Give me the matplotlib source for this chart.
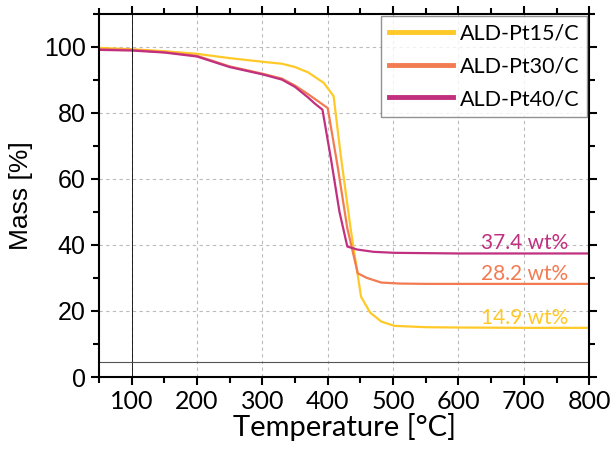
"""
TGA curves of ALD-Pt/C catalysts (mass loss vs temperature)
"""

import numpy as np
import matplotlib.pyplot as plt

## Data
temp_15 = [50, 100, 150, 200, 250, 300, 330, 350, 370, 394, 409, 420, 435, 451, 465, 482, 502, 550, 600, 700, 800]
mass_15 = [99.6, 99.2, 98.6, 97.8, 96.5, 95.4, 94.8, 93.8, 92.2, 89.0, 85.0, 67.0, 45.0, 24.3, 19.5, 16.8, 15.5, 15.1, 15.0, 14.9, 14.9]

temp_30 = [50, 100, 150, 200, 250, 300, 330, 350, 370, 385, 400, 415, 430, 446, 460, 482, 510, 550, 600, 700, 800]
mass_30 = [99.2, 99.0, 98.3, 97.2, 94.0, 91.8, 90.3, 88.2, 85.6, 83.5, 81.4, 64.0, 45.0, 31.4, 30.0, 28.6, 28.3, 28.2, 28.2, 28.2, 28.2]

temp_40 = [50, 100, 150, 200, 250, 300, 330, 350, 370, 380, 392, 405, 418, 430, 445, 470, 502, 550, 600, 700, 800]
mass_40 = [99.0, 98.8, 98.2, 97.0, 93.8, 91.6, 90.0, 87.8, 84.6, 82.8, 80.9, 66.0, 50.0, 39.5, 38.6, 37.9, 37.6, 37.5, 37.4, 37.4, 37.4]

labels = ['ALD-Pt15/C', 'ALD-Pt30/C', 'ALD-Pt40/C']
residues = ['14.9 wt%', '28.2 wt%', '37.4 wt%']
colors = ['#FFC928', '#F27B52', '#C0307F']

label_font = ['Lato', 'DejaVu Sans']

### Plot figure
fig = plt.figure(figsize=(6.1, 4.5), dpi=100)
ax = fig.add_axes([0.162, 0.162, 0.804, 0.808])

ax.plot(temp_15, mass_15, color=colors[0], linewidth=1.6, label=labels[0])
ax.plot(temp_30, mass_30, color=colors[1], linewidth=1.6, label=labels[1])
ax.plot(temp_40, mass_40, color=colors[2], linewidth=1.6, label=labels[2])

# residue annotations
ax.text(768, 17.9, residues[0], color=colors[0], fontsize=15, ha='right', va='center', family=label_font)
ax.text(768, 31.2, residues[1], color=colors[1], fontsize=15, ha='right', va='center', family=label_font)
ax.text(768, 40.6, residues[2], color=colors[2], fontsize=15, ha='right', va='center', family=label_font)

# thin reference lines
ax.axvline(100, color='black', linewidth=0.6)
ax.axhline(4.5, color='#555555', linewidth=0.8)

ax.set_xlim(50, 800)
ax.set_ylim(0, 110)
ax.set_xticks(np.arange(100, 801, 100))
ax.set_xticks(np.arange(50, 801, 50), minor=True)
ax.set_yticks(np.arange(0, 101, 20))
ax.set_yticks(np.arange(0, 111, 10), minor=True)
ax.grid(True, which='major', linestyle=(0, (3, 3)), color='#BBBBBB', linewidth=0.8)
ax.set_axisbelow(True)

for lbl in ax.get_xticklabels():
    lbl.set_family(label_font)
    lbl.set_fontsize(18)
for lbl in ax.get_yticklabels():
    lbl.set_family('Liberation Sans')
    lbl.set_fontsize(18)

ax.tick_params(which='both', top=True, right=True, width=1.5)
ax.tick_params(which='major', length=6)
ax.tick_params(which='minor', length=4)
ax.tick_params(axis='x', which='both', pad=3)
for s in ax.spines.values():
    s.set_linewidth(1.5)

ax.set_xlabel('Temperature [°C]', fontsize=21, family=label_font, labelpad=0)
ax.set_ylabel('Mass [%]', fontsize=19, family='Liberation Sans', labelpad=8)

leg = ax.legend(loc='upper right', frameon=True, fancybox=False,
                edgecolor='#777777', handlelength=3.0, borderaxespad=0.1,
                labelspacing=0.6, handletextpad=0.3, borderpad=0.35,
                prop={'family': label_font, 'size': 15.5})
leg.get_frame().set_linewidth(1.0)
for h in leg.get_lines():
    h.set_linewidth(3.5)

plt.savefig('out.png', dpi=100)
